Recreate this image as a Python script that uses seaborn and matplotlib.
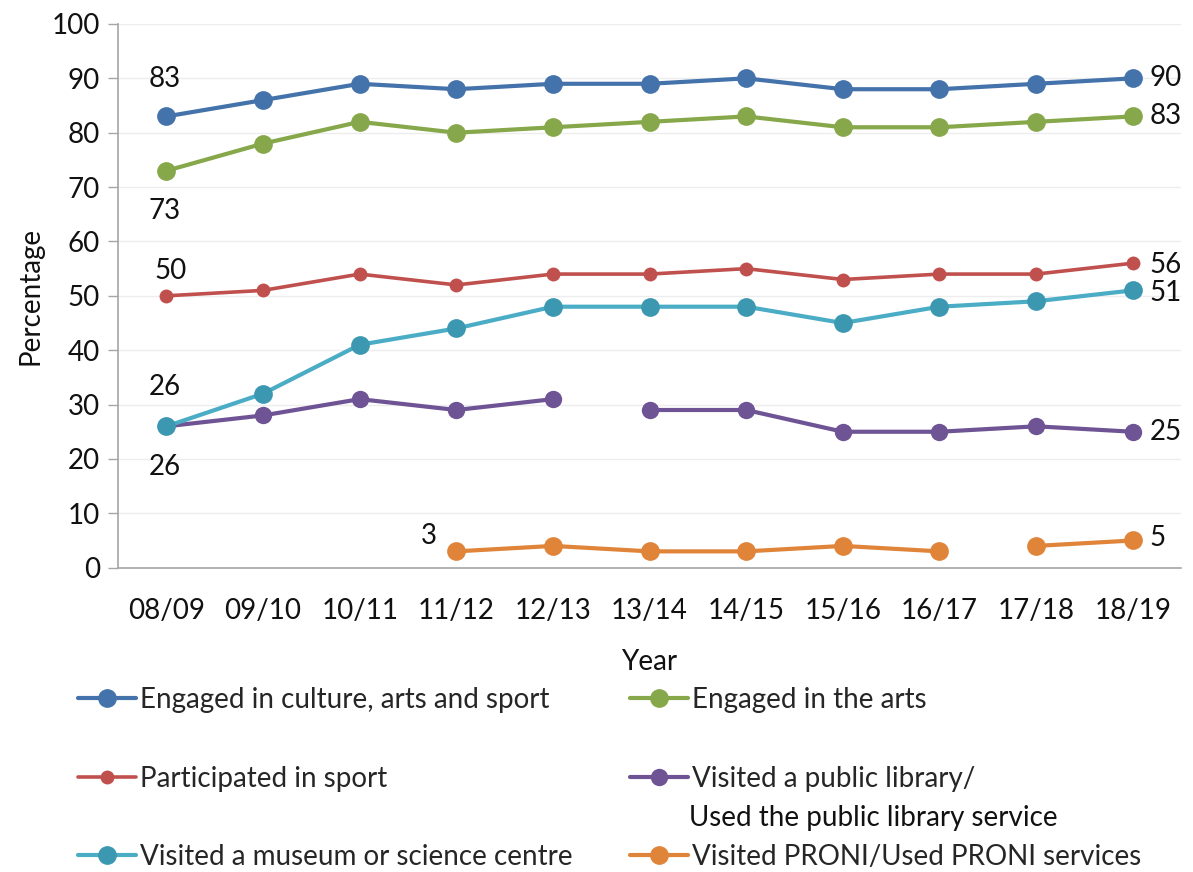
import numpy as np
import pandas as pd
import matplotlib
matplotlib.use("Agg")
import matplotlib.pyplot as plt
from matplotlib.lines import Line2D
import seaborn as sns

years = ["08/09", "09/10", "10/11", "11/12", "12/13", "13/14",
         "14/15", "15/16", "16/17", "17/18", "18/19"]
culture = [83, 86, 89, 88, 89, 89, 90, 88, 88, 89, 90]
arts = [73, 78, 82, 80, 81, 82, 83, 81, 81, 82, 83]
sport = [50, 51, 54, 52, 54, 54, 55, 53, 54, 54, 56]
museum = [26, 32, 41, 44, 48, 48, 48, 45, 48, 49, 51]
library = [26, 28, 31, 29, 31, 29, 29, 25, 25, 26, 25]
proni = [np.nan, np.nan, np.nan, 3, 4, 3, 3, 4, 3, 4, 5]

sns.set_style("white")
plt.rcParams['font.family'] = ['Lato', 'DejaVu Sans']

fig = plt.figure(figsize=(11.93, 8.72), dpi=100)
ax = fig.add_axes([0.099, 0.349, 0.891, 0.6235])

x = np.arange(len(years))

# (label, values, line colour, marker colour, marker size, line width, segment starts)
series = [
    ("Engaged in culture, arts and sport", culture, "#4472AA", "#4472AA", 13.5, 3.0, [0]),
    ("Engaged in the arts", arts, "#86A84A", "#86A84A", 13.5, 3.0, [0]),
    ("Participated in sport", sport, "#C0504D", "#C0504D", 10, 2.6, [0]),
    ("Visited a public library/\nUsed the public library service", library, "#6E5494", "#6E5494", 12.5, 3.0, [0, 5]),
    ("Visited a museum or science centre", museum, "#4BACC6", "#3C98B0", 13.5, 3.0, [0]),
    ("Visited PRONI/Used PRONI services", proni, "#E0843A", "#E0843A", 13.5, 3.0, [0, 9]),
]

for label, vals, lc, mc, ms, lw, starts in series:
    vals = np.array(vals, dtype=float)
    bounds = starts + [len(vals)]
    for a, b in zip(bounds[:-1], bounds[1:]):
        seg = pd.DataFrame({"x": x[a:b], "y": vals[a:b]}).dropna()
        sns.lineplot(data=seg, x="x", y="y", ax=ax, color=lc, linewidth=lw,
                     marker="o", markersize=ms, markerfacecolor=mc,
                     markeredgewidth=0, zorder=3)

# data labels
fs = 20
def lab(xi, val, dx, dy, ha="center"):
    ax.annotate(f"{val:g}", (xi, val), xytext=(dx, dy), textcoords="offset points",
                ha=ha, va="center", fontsize=fs, color="#111111")

lab(0, culture[0], -1, 27)
lab(0, arts[0], -1, -29)
lab(0, sport[0], 3, 18)
lab(0, museum[0], -1, 28)
lab(0, library[0], -1, -29)
lab(3, proni[3], -14, 11, ha="right")
lab(10, culture[10], 12, 0, ha="left")
lab(10, arts[10], 12, 0, ha="left")
lab(10, sport[10], 12, -1, ha="left")
lab(10, museum[10], 12, -2, ha="left")
lab(10, library[10], 12, 0, ha="left")
lab(10, proni[10], 12, 2, ha="left")

ax.set_xlim(-0.5, 10.5)
ax.set_ylim(0, 100)
ax.set_yticks(range(0, 101, 10))
ax.set_xticks(x)
ax.set_xticklabels(years)
ax.set_xticks(np.arange(-0.5, 11, 1), minor=True)
ax.tick_params(axis="x", which="major", length=0, pad=22, labelsize=fs, colors="#111111")
ax.tick_params(axis="x", which="minor", length=7, width=1, color="#A6A6A6", direction="out")
ax.tick_params(axis="y", which="major", length=7, width=1, color="#A6A6A6",
               direction="out", pad=6, labelsize=fs, labelcolor="#111111", left=True)
ax.grid(axis="y", color="#EDEDED", linewidth=1)
ax.set_axisbelow(True)
for s in ["top", "right"]:
    ax.spines[s].set_visible(False)
for s in ["left", "bottom"]:
    ax.spines[s].set_color("#A6A6A6")
    ax.spines[s].set_linewidth(1.2)

ax.set_xlabel("Year", fontsize=fs, labelpad=18, color="#111111")
ax.set_ylabel("Percentage", fontsize=fs, labelpad=6, color="#111111")

# legend, laid out like the source (two columns, three rows)
legend_pos = [(0.065, 0.197), (0.528, 0.197), (0.065, 0.107),
              (0.528, 0.107), (0.065, 0.017), (0.528, 0.017)]
for (label, vals, lc, mc, ms, lw, starts), (lx, ly) in zip(series, legend_pos):
    first = label.split("\n")[0]
    h = Line2D([], [], color=lc, linewidth=lw, marker="o",
               markersize=ms, markerfacecolor=mc, markeredgewidth=0)
    fig.legend([h], [first], loc="center left", bbox_to_anchor=(lx, ly),
               frameon=False, fontsize=fs, handlelength=2.1, handletextpad=0.15,
               borderpad=0, borderaxespad=0)
    if "\n" in label:
        fig.text(0.5775, ly - 0.045, label.split("\n")[1], fontsize=fs,
                 va="center", ha="left", color="#111111")

fig.savefig("out.png", dpi=100)
